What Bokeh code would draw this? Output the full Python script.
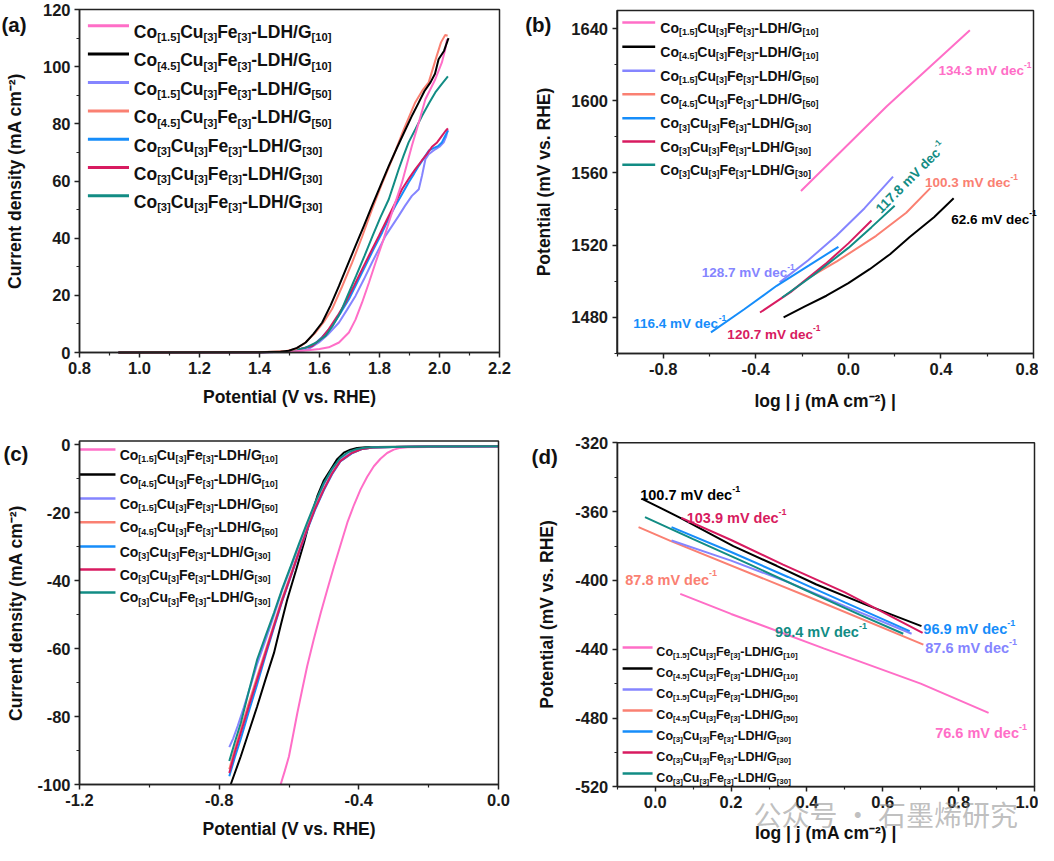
import math
from bokeh.plotting import figure
from bokeh.models import Range1d, Label, FixedTicker, NumeralTickFormatter, BoxAnnotation
from bokeh.layouts import gridplot
from bokeh.embed import file_html
from bokeh.resources import INLINE

FONT = "Liberation Sans"

# ---------------- series definitions ----------------
co_sub = ["1.5", "4.5", "1.5", "4.5", "3", "3", "3"]
g_sub = ["10", "10", "50", "50", "30", "30", "30"]
colors = ["#FF6EC7", "#000000", "#8585FF", "#FA8072", "#168DFA", "#D81B60", "#128C84"]

# ---------------- (a) OER LSV ----------------
a_pink_v = [0.93, 1.40, 1.50, 1.554, 1.60, 1.631, 1.665, 1.698, 1.72, 1.742, 1.765, 1.787, 1.81, 1.831, 1.853, 1.875, 1.908, 1.931, 1.953, 1.986, 2.008, 2.019, 2.025]
a_pink_j = [0, 0.1, 0.3, 0.7, 1.2, 1.8, 3.5, 7, 11.5, 17.5, 24.5, 31.5, 38.5, 45.5, 52.5, 59.5, 72.3, 80.5, 88.6, 95.6, 101.5, 106, 109.6]
a_black_v = [0.93, 1.40, 1.47, 1.498, 1.525, 1.554, 1.58, 1.609, 1.637, 1.665, 1.692, 1.72, 1.748, 1.775, 1.803, 1.831, 1.859, 1.887, 1.91, 1.931, 1.95, 1.97, 1.985, 1.997, 2.015, 2.03]
a_black_j = [0, 0.1, 0.3, 0.6, 1.6, 3.5, 6.5, 10.5, 16.5, 23.3, 30.2, 37.3, 44.3, 51.3, 58.3, 65.3, 71.8, 78.1, 83.2, 87.5, 91.5, 94.5, 97.5, 102.6, 105.5, 110]
a_lav_v = [0.93, 1.40, 1.50, 1.56, 1.598, 1.63, 1.665, 1.692, 1.72, 1.748, 1.775, 1.798, 1.82, 1.842, 1.864, 1.885, 1.908, 1.92, 1.931, 1.942, 1.953, 1.964, 1.986, 2.0, 2.014, 2.022, 2.028]
a_lav_j = [0, 0.1, 0.2, 1, 3.5, 6.5, 10.5, 15, 19.8, 25.6, 31.5, 36.2, 40.8, 44.3, 47.8, 51.3, 54.8, 56, 57.1, 62, 67.6, 69.4, 71.1, 72, 73.5, 75.5, 78]
a_salmon_v = [0.93, 1.40, 1.49, 1.52, 1.55, 1.587, 1.615, 1.642, 1.675, 1.709, 1.742, 1.775, 1.808, 1.842, 1.88, 1.919, 1.945, 1.964, 1.99, 2.005, 2.019, 2.027]
a_salmon_j = [0, 0.1, 0.5, 1.2, 3.2, 7, 10.8, 15.2, 23, 31.5, 40.5, 50.1, 59, 67.6, 77.8, 87.5, 92, 94.5, 103.5, 108.5, 111.1, 110.8]
a_blue_v = [0.93, 1.40, 1.50, 1.576, 1.61, 1.642, 1.67, 1.698, 1.725, 1.753, 1.78, 1.809, 1.83, 1.853, 1.875, 1.897, 1.915, 1.931, 1.948, 1.964, 1.98, 1.995, 2.008, 2.02, 2.028]
a_blue_j = [0, 0.1, 0.3, 2.3, 5.5, 9.3, 13.8, 18.6, 24.4, 30.3, 36.1, 42, 46.7, 51.3, 55.4, 59.5, 62.5, 65.3, 68, 70.6, 71.5, 72.2, 73.5, 76, 77.6]
a_red_v = [0.93, 1.40, 1.50, 1.576, 1.605, 1.631, 1.66, 1.687, 1.715, 1.742, 1.77, 1.798, 1.82, 1.842, 1.875, 1.9, 1.919, 1.94, 1.958, 1.975, 1.992, 2.008, 2.02, 2.028]
a_red_j = [0, 0.1, 0.3, 2.3, 4.8, 8.2, 12.8, 17.5, 23.3, 29.1, 35, 40.8, 45.5, 50.1, 57.1, 61.2, 64.1, 67, 69.4, 72, 73.5, 75.8, 77.5, 78.4]
a_teal_v = [0.93, 1.40, 1.50, 1.554, 1.59, 1.62, 1.645, 1.67, 1.695, 1.722, 1.75, 1.777, 1.803, 1.831, 1.848, 1.864, 1.88, 1.897, 1.92, 1.942, 1.965, 1.986, 2.008, 2.028]
a_teal_j = [0, 0.1, 0.4, 1.7, 3.5, 5.8, 9.5, 14, 20.2, 26.8, 33.8, 40.8, 47.3, 53.6, 59, 64.1, 68.8, 73.5, 78.2, 82.8, 87.2, 91, 94, 96.6]

# ---------------- (b) OER Tafel ----------------
b_pink_x = [-0.205, 0.166, 0.525]
b_pink_y = [1550, 1597, 1639]
b_black_x = [-0.28, -0.19, -0.095, 0.0, 0.092, 0.18, 0.265, 0.37, 0.455]
b_black_y = [1480, 1486, 1492, 1499, 1506.7, 1515, 1524.5, 1535.5, 1546]
b_lav_x = [-0.297, -0.175, -0.052, 0.07, 0.193]
b_lav_y = [1499.4, 1511.5, 1525.2, 1540.5, 1558]
b_salmon_x = [-0.17, -0.05, 0.12, 0.25, 0.354]
b_salmon_y = [1502, 1511, 1525.2, 1538, 1551.6]
b_blue_x = [-0.594, -0.45, -0.31, -0.17, -0.043]
b_blue_y = [1471.7, 1484.5, 1497.5, 1508.8, 1519.1]
b_red_x = [-0.382, -0.25, -0.1, 0.0, 0.1]
b_red_y = [1482.7, 1494, 1509.5, 1521, 1533.7]
b_teal_x = [-0.286, -0.15, 0.0, 0.1, 0.2]
b_teal_y = [1491, 1503.5, 1518.5, 1530, 1541.8]
b_slopes = ["134.3", "62.6", "128.7", "100.3", "116.4", "120.7", "117.8"]

# ---------------- (c) HER LSV ----------------
c_pink_v = [-0.624, -0.612, -0.6, -0.588, -0.576, -0.562, -0.548, -0.529, -0.509, -0.49, -0.471, -0.452, -0.433, -0.414, -0.395, -0.376, -0.357, -0.338, -0.319, -0.3, -0.281, -0.26, -0.2, 0.0]
c_pink_j = [-100, -96, -91.7, -85.3, -78.9, -72, -65.2, -57.3, -49.5, -42.6, -35.8, -29.4, -23, -17.8, -13.2, -9.5, -6.4, -4.2, -2.5, -1.5, -1.0, -0.8, -0.7, -0.6]
c_black_v = [-0.767, -0.738, -0.715, -0.691, -0.667, -0.643, -0.624, -0.605, -0.58, -0.557, -0.538, -0.519, -0.5, -0.481, -0.462, -0.443, -0.424, -0.405, -0.38, -0.35, -0.2, 0.0]
c_black_j = [-100, -91.7, -84.5, -77, -69, -61.3, -53.3, -45.6, -37, -28.9, -21.5, -15.2, -10.5, -7.4, -4.3, -2.4, -1.5, -1.0, -0.8, -0.7, -0.6, -0.5]
c_lav_v = [-0.771, -0.76, -0.747, -0.73, -0.71, -0.691, -0.667, -0.643, -0.62, -0.595, -0.572, -0.548, -0.524, -0.5, -0.477, -0.453, -0.42, -0.39, -0.36, -0.3, -0.2, 0.0]
c_lav_j = [-89, -86.5, -82.8, -77.5, -71, -64.5, -57.5, -50.2, -43, -36.2, -29.8, -23.5, -17.3, -11.8, -7.5, -4.2, -2.3, -1.3, -0.9, -0.7, -0.6, -0.5]
c_v = [-0.771, -0.755, -0.738, -0.715, -0.691, -0.667, -0.643, -0.62, -0.595, -0.572, -0.548, -0.524, -0.5, -0.477, -0.453, -0.42, -0.39, -0.36, -0.3, -0.2, 0.0]
c_salmon_j = [-95.5, -89.5, -83.8, -76, -68.2, -60.5, -52.8, -45.4, -38.2, -31.4, -24.7, -18.3, -13, -8.5, -4.8, -2.5, -1.3, -0.9, -0.7, -0.6, -0.5]
c_blue_j = [-97.6, -92, -86.5, -78.5, -70.5, -62, -53.8, -46.2, -38.9, -32, -25.2, -18.9, -13.4, -8.8, -5, -2.6, -1.3, -0.9, -0.7, -0.6, -0.5]
c_red_j = [-96.6, -90.5, -84.8, -77, -69.1, -61.3, -53.4, -46, -38.7, -31.8, -25, -18.6, -13.2, -8.6, -4.9, -2.5, -1.3, -0.9, -0.7, -0.6, -0.5]
c_teal_v = [-0.771, -0.755, -0.738, -0.715, -0.691, -0.667, -0.643, -0.62, -0.595, -0.572, -0.548, -0.524, -0.5, -0.477, -0.453, -0.43, -0.405, -0.38, -0.36, -0.3, -0.2, 0.0]
c_teal_j = [-93.1, -87.5, -81.9, -72.5, -63.2, -56.3, -49.5, -42.6, -35.8, -29.4, -23, -16.8, -11.3, -7.2, -3.9, -2.2, -1.3, -0.9, -0.8, -0.7, -0.6, -0.5]

# ---------------- (d) HER Tafel ----------------
d_pink_x = [0.066, 0.2, 0.444, 0.7, 0.879]
d_pink_y = [-407.8, -419.5, -439.5, -460, -477]
d_black_x = [-0.036, 0.066, 0.206, 0.32, 0.425, 0.56, 0.702]
d_black_y = [-352.4, -363.6, -380.1, -391.5, -402.4, -414.5, -426.6]
d_lav_x = [0.043, 0.2, 0.35, 0.5, 0.676]
d_lav_y = [-376.8, -388.5, -401, -415, -431]
d_salmon_x = [-0.044, 0.04, 0.4, 0.707]
d_salmon_y = [-369, -377, -409.2, -437.3]
d_blue_x = [0.043, 0.2, 0.35, 0.5, 0.671]
d_blue_y = [-369, -383.5, -398, -412.8, -429.5]
d_red_x = [0.069, 0.2, 0.337, 0.5, 0.705]
d_red_y = [-363.6, -376.5, -390.8, -407, -430.5]
d_teal_x = [-0.027, 0.1, 0.25, 0.4, 0.54, 0.654]
d_teal_y = [-363.2, -376, -390.8, -406, -420, -431]
d_slopes = ["76.6", "100.7", "87.6", "87.8", "96.9", "103.9", "99.4"]

# ---------------- text helpers ----------------
WID = {' ': 278, '(': 333, ')': 333, '-': 333, '.': 278, '/': 278, '[': 333, ']': 333,
       'C': 722, 'D': 722, 'E': 667, 'F': 611, 'G': 778, 'H': 722, 'L': 611, 'R': 722, 'V': 667,
       'c': 556, 'd': 611, 'e': 556, 'm': 889, 'o': 611, 'u': 611, 'v': 556, 's': 556}


def tw(s, size):
    return sum(WID.get(ch, 556) for ch in s) / 1000.0 * size


def rich(p, x, y, runs, size, color, angle=0.0, base_dy=0.0, sub_ratio=0.64):
    ca, sa = math.cos(angle), math.sin(angle)
    dx = 0.0
    for txt, kind in runs:
        if kind == "sub":
            fs, dy = size * sub_ratio, -size * 0.30
        elif kind == "sup":
            fs, dy = size * 0.62, size * 0.42
        else:
            fs, dy = size, 0.0
        dy += base_dy
        p.add_layout(Label(x=x, y=y, x_offset=dx * ca - dy * sa, y_offset=dx * sa + dy * ca,
                           text=txt, text_font=FONT, text_font_size=f"{fs:.1f}px",
                           text_font_style="bold", text_color=color,
                           text_baseline="alphabetic", text_align="left", angle=angle))
        dx += tw(txt, fs)


def legend(p, x0, x1, xt, rows, size, lw):
    for i in range(7):
        p.segment(x0=[x0], y0=[rows[i]], x1=[x1], y1=[rows[i]], line_color=colors[i], line_width=lw)
        runs = [("Co", "n"), ("[" + co_sub[i] + "]", "sub"), ("Cu", "n"), ("[3]", "sub"),
                ("Fe", "n"), ("[3]", "sub"), ("-LDH/G", "n"), ("[" + g_sub[i] + "]", "sub")]
        rich(p, xt, rows[i], runs, size, "#111111", base_dy=-0.36 * size)


def slope_label(p, x, y, val, size, color, angle=0.0):
    rich(p, x, y, [(val + " mV dec", "n"), ("-1", "sup")], size, color, angle=angle)


def make_fig(W, H, origin, box, dr, xt, xm, yt, ym, xlab, ylab, xstand, ystand):
    """Whole figure is the frame; axes are pinned to the data box so that
    annotations outside the box (panel letters, watermark) are not clipped."""
    ox, oy = origin
    L, R, T, B = box
    x0, x1, y0, y1 = dr
    sx = (R - L) / (x1 - x0)
    sy = (B - T) / (y1 - y0)
    xs = x0 - (L - ox) / sx
    ye = y1 + (T - oy) / sy
    p = figure(width=W, height=H, x_range=Range1d(xs, xs + W / sx), y_range=Range1d(ye - H / sy, ye),
               output_backend="svg", toolbar_location=None, min_border=0,
               background_fill_color="white", border_fill_color="white")
    p.grid.visible = False
    p.outline_line_color = None
    p.xaxis.fixed_location = y0
    p.yaxis.fixed_location = x0
    p.xaxis.bounds = (x0, x1)
    p.yaxis.bounds = (y0, y1)
    p.xaxis.ticker = FixedTicker(ticks=xt, minor_ticks=xm)
    p.yaxis.ticker = FixedTicker(ticks=yt, minor_ticks=ym)
    p.xaxis.formatter = NumeralTickFormatter(format="0.0")
    p.yaxis.formatter = NumeralTickFormatter(format="0")
    p.xaxis.axis_label = xlab
    p.yaxis.axis_label = ylab
    for ax in p.axis:
        ax.axis_line_width = 1.5
        ax.axis_line_color = "#222222"
        ax.major_tick_line_width = 1.5
        ax.major_tick_line_color = "#222222"
        ax.minor_tick_line_width = 1.2
        ax.minor_tick_line_color = "#222222"
        ax.major_tick_out = 5
        ax.major_tick_in = 0
        ax.minor_tick_out = 3
        ax.minor_tick_in = 0
        ax.major_label_text_font = FONT
        ax.major_label_text_font_size = "16.5px"
        ax.major_label_text_font_style = "bold"
        ax.major_label_text_color = "#1a1a1a"
        ax.major_label_standoff = 4
        ax.axis_label_text_font = FONT
        ax.axis_label_text_font_size = "17.5px"
        ax.axis_label_text_font_style = "bold"
        ax.axis_label_text_color = "#111111"
    p.xaxis.axis_label_standoff = xstand
    p.yaxis.axis_label_standoff = ystand
    p.add_layout(BoxAnnotation(left=x0, right=x1, bottom=y0, top=y1, fill_color=None, fill_alpha=0,
                               line_color="#222222", line_width=1.5, line_alpha=1.0))
    return p


def panel_letter(p, x, y, letter):
    p.add_layout(Label(x=x, y=y, text=letter, text_font=FONT, text_font_size="20.5px",
                       text_font_style="bold", text_color="#111111", text_baseline="alphabetic"))


J_LABEL = "Current density (mA cm\u207b\u00b2)"
LOGJ_LABEL = "log | j (mA cm\u207b\u00b2) |"

# ================= (a) =================
pa = make_fig(519, 422, (0, -2), (79, 499, 7, 350), (0.8, 2.2, 0, 120),
              [0.8 + 0.2 * i for i in range(8)], [0.9 + 0.2 * i for i in range(7)],
              [20 * i for i in range(7)], [10 + 20 * i for i in range(6)],
              "Potential (V vs. RHE)", J_LABEL, 10, 15)
a_series = [(a_pink_v, a_pink_j), (a_black_v, a_black_j), (a_lav_v, a_lav_j), (a_salmon_v, a_salmon_j),
            (a_blue_v, a_blue_j), (a_red_v, a_red_j), (a_teal_v, a_teal_j)]
for i in [2, 4, 5, 6, 0, 3, 1]:
    pa.line(a_series[i][0], a_series[i][1], line_color=colors[i], line_width=2)
legend(pa, 0.828, 0.965, 0.981, [114.3, 104.4, 94.5, 84.5, 74.6, 64.7, 54.8], 17.5, 3)
panel_letter(pa, 0.54, 114.8, "(a)")

# ================= (b) =================
pb = make_fig(519, 422, (523, -2), (620.5, 1037, 8, 351), (-1.0, 0.8, 1460, 1650),
              [-0.8, -0.4, 0.0, 0.4, 0.8], [-1.0, -0.6, -0.2, 0.2, 0.6],
              [1480, 1520, 1560, 1600, 1640], [1460, 1500, 1540, 1580, 1620],
              LOGJ_LABEL, "Potential (mV vs. RHE)", 13, 15)
b_series = [(b_pink_x, b_pink_y), (b_black_x, b_black_y), (b_lav_x, b_lav_y), (b_salmon_x, b_salmon_y),
            (b_blue_x, b_blue_y), (b_red_x, b_red_y), (b_teal_x, b_teal_y)]
for i in range(7):
    pb.line(b_series[i][0], b_series[i][1], line_color=colors[i], line_width=2)
legend(pb, -0.977, -0.835, -0.813, [1643.3, 1629.9, 1616.6, 1603.6, 1590.3, 1577.4, 1564.5], 14, 2.5)
slope_label(pb, 0.389, 1616.7, b_slopes[0], 13.5, colors[0])
slope_label(pb, 0.444, 1534.5, b_slopes[1], 13.5, colors[1])
slope_label(pb, -0.634, 1504.6, b_slopes[2], 13.5, colors[2])
slope_label(pb, 0.331, 1554.7, b_slopes[3], 13.5, colors[3])
slope_label(pb, -0.93, 1476.7, b_slopes[4], 13.5, colors[4])
slope_label(pb, -0.523, 1470.8, b_slopes[5], 13.5, colors[5])
slope_label(pb, 0.128, 1539.1, b_slopes[6], 13.5, colors[6], angle=math.radians(45))
panel_letter(pb, -1.397, 1642.2, "(b)")

# ================= (c) =================
pc = make_fig(519, 423, (0, 438), (79, 498, 456.6, 800), (-1.2, 0.0, -100, 1),
              [-1.2, -0.8, -0.4, 0.0], [-1.0, -0.6, -0.2],
              [-100 + 20 * i for i in range(6)], [-90 + 20 * i for i in range(5)],
              "Potential (V vs. RHE)", J_LABEL, 10, 8)
c_series = [(c_pink_v, c_pink_j), (c_black_v, c_black_j), (c_lav_v, c_lav_j), (c_v, c_salmon_j),
            (c_v, c_blue_j), (c_v, c_red_j), (c_teal_v, c_teal_j)]
for i in range(7):
    pc.line(c_series[i][0], c_series[i][1], line_color=colors[i], line_width=2)
legend(pc, -1.2, -1.097, -1.085, [-1.5, -8.8, -15.9, -22.9, -30, -36.8, -43.5], 14, 2.5)
panel_letter(pc, -1.418, -2.65, "(c)")

# ================= (d) =================
pd_ = make_fig(519, 423, (523, 438), (620.8, 1038, 458.3, 802.3), (-0.1, 1.0, -520, -320),
               [0.2 * i for i in range(6)], [-0.1 + 0.2 * i for i in range(6)],
               [-520 + 40 * i for i in range(6)], [-500 + 40 * i for i in range(5)],
               LOGJ_LABEL, "Potential (mV vs. RHE)", 12, 15)
d_series = [(d_pink_x, d_pink_y), (d_black_x, d_black_y), (d_lav_x, d_lav_y), (d_salmon_x, d_salmon_y),
            (d_blue_x, d_blue_y), (d_red_x, d_red_y), (d_teal_x, d_teal_y)]
for i in [0, 3, 2, 4, 6, 1, 5]:
    pd_.line(d_series[i][0], d_series[i][1], line_color=colors[i], line_width=2)
legend(pd_, -0.086, -0.007, 0.003, [-439, -451.2, -463.4, -475.6, -487.8, -500, -512.2], 12.5, 2.5)
slope_label(pd_, 0.738, -488.7, d_slopes[0], 14.5, colors[0])
slope_label(pd_, -0.0395, -350.6, d_slopes[1], 14.5, colors[1])
slope_label(pd_, 0.712, -439.3, d_slopes[2], 14.5, colors[2])
slope_label(pd_, -0.079, -399.5, d_slopes[3], 14.5, colors[3])
slope_label(pd_, 0.707, -428.5, d_slopes[4], 14.5, colors[4])
slope_label(pd_, 0.083, -363.7, d_slopes[5], 14.5, colors[5])
slope_label(pd_, 0.316, -430.0, d_slopes[6], 14.5, colors[6])
panel_letter(pd_, -0.326, -328, "(d)")
pd_.add_layout(Label(x=0.259, y=-536, text="\u516c\u4f17\u53f7 \u00b7 \u77f3\u58a8\u70ef\u7814\u7a76",
                     text_font="Noto Sans CJK SC", text_font_size="28px", text_color="#8a8a8a",
                     text_alpha=0.55, text_baseline="alphabetic"))

grid = gridplot([[pa, pb], [pc, pd_]], toolbar_location=None)
open("out.html", "w").write(file_html(grid, INLINE, title="LDH/G electrocatalysis"))
